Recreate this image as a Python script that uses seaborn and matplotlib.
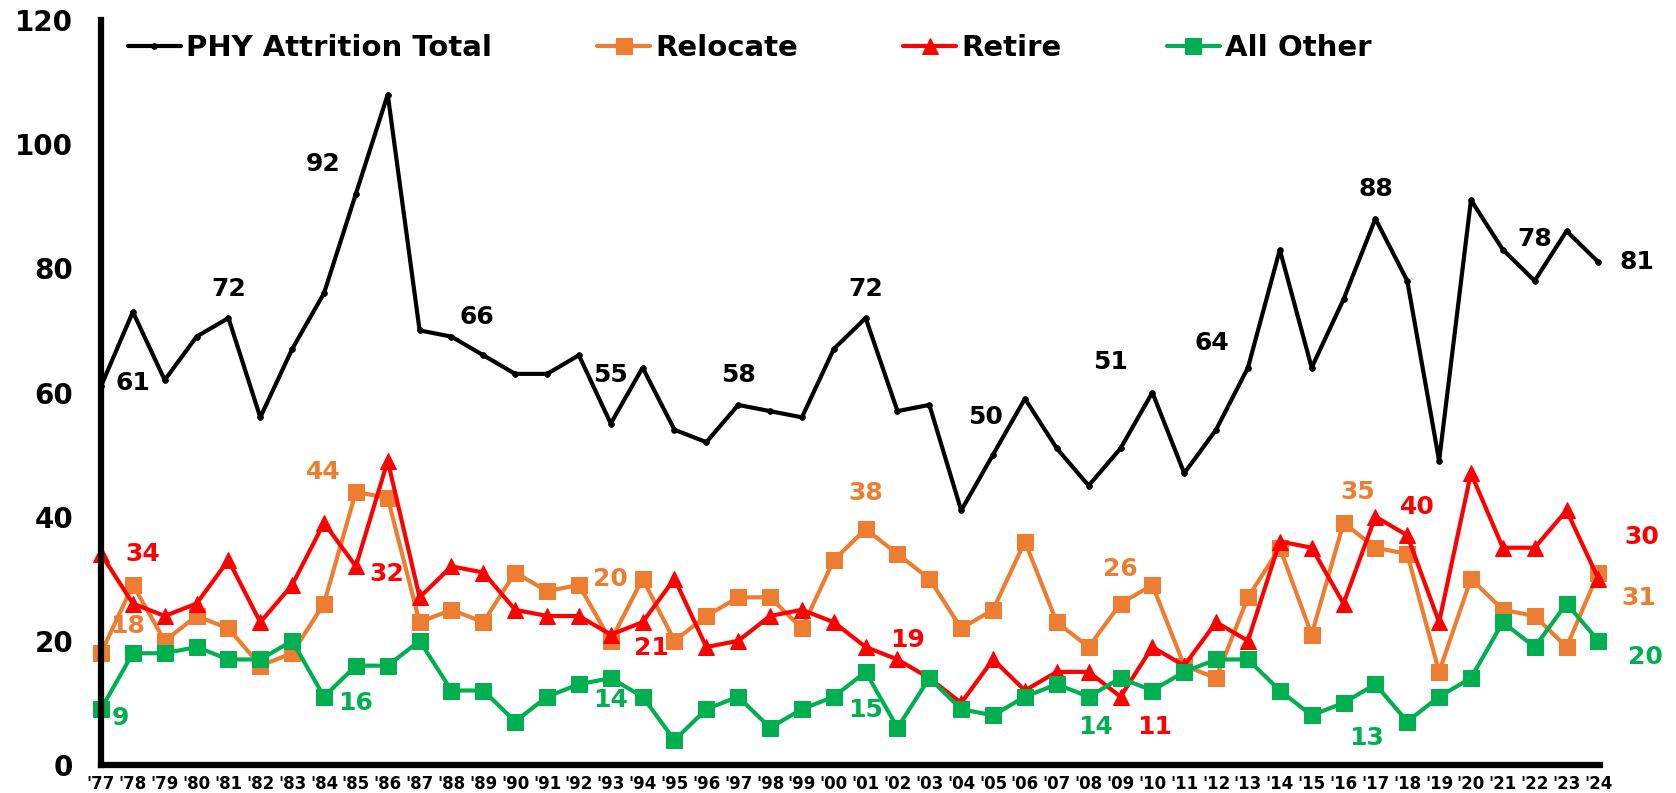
import matplotlib
matplotlib.use("Agg")
import matplotlib.pyplot as plt
import seaborn as sns
import pandas as pd

### data
years = ["'77", "'78", "'79", "'80", "'81", "'82", "'83", "'84", "'85", "'86",
         "'87", "'88", "'89", "'90", "'91", "'92", "'93", "'94", "'95", "'96",
         "'97", "'98", "'99", "'00", "'01", "'02", "'03", "'04", "'05", "'06",
         "'07", "'08", "'09", "'10", "'11", "'12", "'13", "'14", "'15", "'16",
         "'17", "'18", "'19", "'20", "'21", "'22", "'23", "'24"]

total = [61, 73, 62, 69, 72, 56, 67, 76, 92, 108,
         70, 69, 66, 63, 63, 66, 55, 64, 54, 52,
         58, 57, 56, 67, 72, 57, 58, 41, 50, 59,
         51, 45, 51, 60, 47, 54, 64, 83, 64, 75,
         88, 78, 49, 91, 83, 78, 86, 81]

relocate = [18, 29, 20, 24, 22, 16, 18, 26, 44, 43,
            23, 25, 23, 31, 28, 29, 20, 30, 20, 24,
            27, 27, 22, 33, 38, 34, 30, 22, 25, 36,
            23, 19, 26, 29, 16, 14, 27, 35, 21, 39,
            35, 34, 15, 30, 25, 24, 19, 31]

retire = [34, 26, 24, 26, 33, 23, 29, 39, 32, 49,
          27, 32, 31, 25, 24, 24, 21, 23, 30, 19,
          20, 24, 25, 23, 19, 17, 14, 10, 17, 12,
          15, 15, 11, 19, 16, 23, 20, 36, 35, 26,
          40, 37, 23, 47, 35, 35, 41, 30]

all_other = [9, 18, 18, 19, 17, 17, 20, 11, 16, 16,
             20, 12, 12, 7, 11, 13, 14, 11, 4, 9,
             11, 6, 9, 11, 15, 6, 14, 9, 8, 11,
             13, 11, 14, 12, 15, 17, 17, 12, 8, 10,
             13, 7, 11, 14, 23, 19, 26, 20]

series_names = ["PHY Attrition Total", "Relocate", "Retire", "All Other"]

df = pd.DataFrame({"idx": range(len(years)), "year": years,
                   "PHY Attrition Total": total, "Relocate": relocate,
                   "Retire": retire, "All Other": all_other})

### styling
sns.set_style("white")
plt.rcParams["font.family"] = ["DejaVu Sans"]
plt.rcParams["font.weight"] = "bold"
plt.rcParams["text.color"] = "black"
plt.rcParams["xtick.color"] = "black"
plt.rcParams["ytick.color"] = "black"

colors = {"PHY Attrition Total": "black", "Relocate": "#ED7D31",
          "Retire": "#FF0000", "All Other": "#00B050"}
markers = {"PHY Attrition Total": "o", "Relocate": "s",
           "Retire": "^", "All Other": "s"}
msizes = {"PHY Attrition Total": 4, "Relocate": 11,
          "Retire": 12, "All Other": 11}

fig = plt.figure(figsize=(16.76, 7.93), dpi=100)
ax = fig.add_axes([101 / 1676, 1 - 765 / 793, (1600 - 101) / 1676, (765 - 20) / 793])

for name in series_names:
    sns.lineplot(data=df, x="idx", y=name, ax=ax, color=colors[name],
                 marker=markers[name], markersize=msizes[name],
                 markeredgecolor=colors[name], linewidth=3, label=name,
                 clip_on=False)

### data labels (point index, offset in pixels)
label_spots = {
    "PHY Attrition Total": [(0, 32, 3), (4, 0, 29), (8, -33, 30), (12, -6, 38),
                            (16, 0, 49), (20, 0, 30), (24, 0, 29), (28, -8, 38),
                            (32, -10, 86), (36, -36, 25), (40, 0, 30),
                            (45, 0, 42), (47, 39, 0)],
    "Relocate": [(0, 27, 27), (8, -33, 20), (16, 0, 62), (24, 0, 36),
                 (32, 0, 35), (40, -18, 56), (47, 40, -25)],
    "Retire": [(0, 42, 0), (8, 31, -8), (16, 41, -13), (24, 42, 7),
               (32, 34, -30), (40, 42, 10), (47, 43, 42)],
    "All Other": [(0, 19, -9), (8, 0, -37), (16, 0, -22), (24, 0, -38),
                  (32, -25, -49), (40, -9, -54), (47, 47, -16)],
}
for name, spots in label_spots.items():
    vals = df[name].tolist()
    for i, dx, dy in spots:
        ax.annotate(str(vals[i]), xy=(i, vals[i]), xytext=(dx, dy),
                    textcoords="offset pixels", ha="center", va="center",
                    fontsize=18, fontweight="bold", color=colors[name],
                    annotation_clip=False)

### axes
ax.set_xlim(0, 47.05)
ax.set_ylim(0, 120)
ax.set_xticks(range(len(years)))
ax.set_xticklabels(years)
ax.set_yticks(range(0, 121, 20))
ax.set_xlabel("")
ax.set_ylabel("")
for s in ["top", "right"]:
    ax.spines[s].set_visible(False)
for s in ["left", "bottom"]:
    ax.spines[s].set_linewidth(4.5)
    ax.spines[s].set_color("black")
ax.tick_params(axis="y", direction="out", length=6, width=4, pad=14,
               labelsize=20, labelcolor="black")
ax.tick_params(axis="x", direction="in", length=3, width=3, pad=7,
               labelsize=12, labelcolor="black")
for t in ax.get_xticklabels() + ax.get_yticklabels():
    t.set_fontweight("bold")

leg = ax.legend(loc="center left", bbox_to_anchor=(128 / 1676, 1 - 48 / 793),
                bbox_transform=fig.transFigure, ncol=4, frameon=False,
                handlelength=1.8, handletextpad=0.2,
                columnspacing=3.6, borderpad=0, borderaxespad=0,
                prop={"weight": "bold", "size": 21})
for t in leg.get_texts():
    t.set_color("black")

fig.savefig("out.png", dpi=100)
